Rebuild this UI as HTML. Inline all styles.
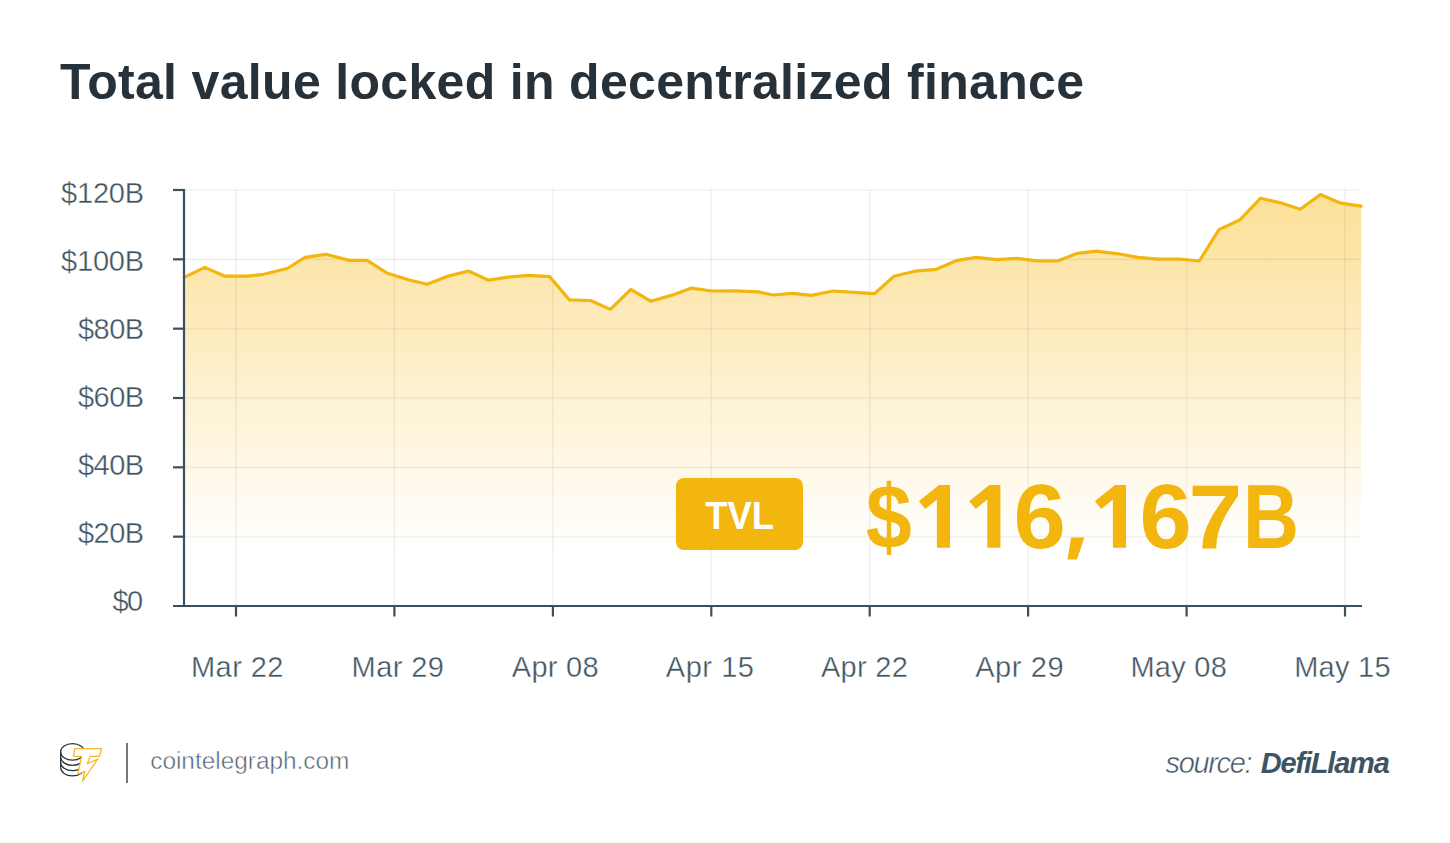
<!DOCTYPE html>
<html><head><meta charset="utf-8">
<style>
html,body{margin:0;padding:0;background:#fff;}
body{width:1450px;height:843px;overflow:hidden;position:relative;font-family:"Liberation Sans",sans-serif;}
svg{position:absolute;left:0;top:0;}
</style></head>
<body>
<svg width="1450" height="843" viewBox="0 0 1450 843">
<defs>
<linearGradient id="fg" x1="0" y1="190" x2="0" y2="550" gradientUnits="userSpaceOnUse">
<stop offset="0" stop-color="#f8b914" stop-opacity="0.45"/>
<stop offset="1" stop-color="#f8b914" stop-opacity="0"/>
</linearGradient>
</defs>
<text x="60" y="99" font-family="Liberation Sans" font-weight="bold" font-size="50" fill="#27313a" textLength="1024" lengthAdjust="spacing">Total value locked in decentralized finance</text>
<polygon points="184.1,277.4 204.8,267.4 225.0,276.2 247.8,276.2 263.8,274.3 287.1,268.5 305.2,257.4 325.9,254.3 349.5,260.4 367.1,260.4 386.7,272.9 408.4,279.8 427.1,284.3 447.2,276.4 468.6,271.0 488.4,280.2 508.1,277.1 528.3,275.3 549.8,276.7 569.4,299.9 590.5,300.5 610.3,309.4 630.8,289.5 650.7,301.2 671.4,295.4 691.5,288.1 711.7,291.0 734.5,290.8 758.6,291.9 773.1,295.0 792.8,293.3 811.4,295.4 833.1,291.0 853.8,292.4 874.5,293.7 894.0,276.2 914.7,271.2 936.4,269.3 956.0,260.7 976.2,257.4 996.9,259.7 1016.5,258.3 1037.1,260.8 1058.3,260.8 1077.4,253.3 1096.5,251.2 1118.3,253.8 1137.9,257.4 1158.6,259.2 1179.2,259.0 1199.3,261.0 1219.0,229.6 1240.1,219.7 1260.4,198.3 1279.6,202.6 1300.2,209.3 1320.4,194.6 1340.9,203.2 1361.1,206.2 1361.1,606 184,606" fill="url(#fg)"/>
<g stroke="#000" stroke-opacity="0.055" stroke-width="1.6"><line x1="184" y1="190" x2="1361" y2="190"/><line x1="184" y1="259.33" x2="1361" y2="259.33"/><line x1="184" y1="328.67" x2="1361" y2="328.67"/><line x1="184" y1="398" x2="1361" y2="398"/><line x1="184" y1="467.33" x2="1361" y2="467.33"/><line x1="184" y1="536.67" x2="1361" y2="536.67"/><line x1="236" y1="190" x2="236" y2="606"/><line x1="394.4" y1="190" x2="394.4" y2="606"/><line x1="552.9" y1="190" x2="552.9" y2="606"/><line x1="711.3" y1="190" x2="711.3" y2="606"/><line x1="869.7" y1="190" x2="869.7" y2="606"/><line x1="1028.1" y1="190" x2="1028.1" y2="606"/><line x1="1186.6" y1="190" x2="1186.6" y2="606"/><line x1="1345" y1="190" x2="1345" y2="606"/></g>
<polyline points="184.1,277.4 204.8,267.4 225.0,276.2 247.8,276.2 263.8,274.3 287.1,268.5 305.2,257.4 325.9,254.3 349.5,260.4 367.1,260.4 386.7,272.9 408.4,279.8 427.1,284.3 447.2,276.4 468.6,271.0 488.4,280.2 508.1,277.1 528.3,275.3 549.8,276.7 569.4,299.9 590.5,300.5 610.3,309.4 630.8,289.5 650.7,301.2 671.4,295.4 691.5,288.1 711.7,291.0 734.5,290.8 758.6,291.9 773.1,295.0 792.8,293.3 811.4,295.4 833.1,291.0 853.8,292.4 874.5,293.7 894.0,276.2 914.7,271.2 936.4,269.3 956.0,260.7 976.2,257.4 996.9,259.7 1016.5,258.3 1037.1,260.8 1058.3,260.8 1077.4,253.3 1096.5,251.2 1118.3,253.8 1137.9,257.4 1158.6,259.2 1179.2,259.0 1199.3,261.0 1219.0,229.6 1240.1,219.7 1260.4,198.3 1279.6,202.6 1300.2,209.3 1320.4,194.6 1340.9,203.2 1361.1,206.2" fill="none" stroke="#f2b60f" stroke-linecap="round" stroke-width="3.2" stroke-linejoin="round"/>
<g stroke="#3b4f5c" stroke-width="2.2">
<line x1="184" y1="189" x2="184" y2="607"/>
<line x1="173" y1="606" x2="1362" y2="606"/>
<line x1="173" y1="190" x2="184" y2="190"/><line x1="173" y1="259.33" x2="184" y2="259.33"/><line x1="173" y1="328.67" x2="184" y2="328.67"/><line x1="173" y1="398" x2="184" y2="398"/><line x1="173" y1="467.33" x2="184" y2="467.33"/><line x1="173" y1="536.67" x2="184" y2="536.67"/><line x1="236" y1="606" x2="236" y2="616.5"/><line x1="394.4" y1="606" x2="394.4" y2="616.5"/><line x1="552.9" y1="606" x2="552.9" y2="616.5"/><line x1="711.3" y1="606" x2="711.3" y2="616.5"/><line x1="869.7" y1="606" x2="869.7" y2="616.5"/><line x1="1028.1" y1="606" x2="1028.1" y2="616.5"/><line x1="1186.6" y1="606" x2="1186.6" y2="616.5"/><line x1="1345" y1="606" x2="1345" y2="616.5"/>
</g>
<g font-family="Liberation Sans" font-size="29" fill="#3f5563" stroke="#fff" stroke-width="0.35"><text x="61.0" y="202.7" textLength="83.1" lengthAdjust="spacing">$120B</text><text x="61.0" y="270.7" textLength="83.1" lengthAdjust="spacing">$100B</text><text x="77.9" y="338.7" textLength="66.2" lengthAdjust="spacing">$80B</text><text x="77.9" y="406.8" textLength="66.2" lengthAdjust="spacing">$60B</text><text x="77.9" y="474.8" textLength="66.2" lengthAdjust="spacing">$40B</text><text x="77.9" y="542.8" textLength="66.2" lengthAdjust="spacing">$20B</text><text x="112.4" y="610.8" textLength="30.7" lengthAdjust="spacing">$0</text></g>
<g font-family="Liberation Sans" font-size="29" fill="#3f5563" stroke="#fff" stroke-width="0.35"><text x="191.0" y="676.9" textLength="92.5" lengthAdjust="spacing">Mar 22</text><text x="351.6" y="676.9" textLength="92.2" lengthAdjust="spacing">Mar 29</text><text x="511.8" y="676.9" textLength="86.8" lengthAdjust="spacing">Apr 08</text><text x="665.8" y="676.9" textLength="88.2" lengthAdjust="spacing">Apr 15</text><text x="821.0" y="676.9" textLength="86.8" lengthAdjust="spacing">Apr 22</text><text x="975.2" y="676.9" textLength="88.4" lengthAdjust="spacing">Apr 29</text><text x="1130.4" y="676.9" textLength="96.4" lengthAdjust="spacing">May 08</text><text x="1294.2" y="676.9" textLength="96.4" lengthAdjust="spacing">May 15</text></g>
<rect x="676" y="478" width="127" height="72" rx="8" fill="#f2b60f"/>
<text x="705.2" y="528.9" font-family="Liberation Sans" font-weight="bold" font-size="39.3" fill="#fff" textLength="68.8" lengthAdjust="spacingAndGlyphs">TVL</text>
<g font-family="Liberation Sans" font-weight="bold" font-size="91.2" fill="#f2b60f"><text x="865.8" y="547.7" textLength="46.0" lengthAdjust="spacingAndGlyphs">$</text><text x="1013.6" y="547.7" textLength="52.4" lengthAdjust="spacingAndGlyphs">6</text><text x="1139.4" y="547.7" textLength="52.2" lengthAdjust="spacingAndGlyphs">6</text><text x="1188.6" y="547.7" textLength="53.8" lengthAdjust="spacingAndGlyphs">7</text><text x="1243.0" y="547.7" textLength="56.0" lengthAdjust="spacingAndGlyphs">B</text><path transform="translate(0,0)" d="M938.9,484.9 L950,484.9 L950,547.8 L936.9,547.8 L936.9,499.4 L925.3,509 L918.9,501.3 Z"/><path transform="translate(50.4,0)" d="M938.9,484.9 L950,484.9 L950,547.8 L936.9,547.8 L936.9,499.4 L925.3,509 L918.9,501.3 Z"/><path transform="translate(176.0,0)" d="M938.9,484.9 L950,484.9 L950,547.8 L936.9,547.8 L936.9,499.4 L925.3,509 L918.9,501.3 Z"/><path d="M1071.2,537.6 L1084.4,537.6 L1076.9,559.6 L1067.4,559.6 Z"/></g>
<g fill="none" stroke="#27313a" stroke-width="1.25">
<ellipse cx="72.5" cy="751.9" rx="11.9" ry="8.3"/>
<path d="M60.6,757 A11.9,8.3 0 0 0 84.4,757"/>
<path d="M60.6,762.4 A11.9,8.3 0 0 0 84.4,762.4"/>
<path d="M60.6,767.6 A11.9,8.3 0 0 0 84.4,767.6"/>
<path d="M60.6,751.9 V767.6"/>
</g>
<path d="M74.8,748.5 L101.5,748.5 L99.5,756.3 L90.2,756.3 L87.5,763.5 L97.6,759.2 L82.4,781.4 L84.8,771.2 L77.9,774.2 L81.6,756.3 L73.6,756.3 Z" fill="#fff" stroke="#f3b92a" stroke-width="1.25" stroke-linejoin="miter"/>
<line x1="127" y1="743" x2="127" y2="783" stroke="#777" stroke-width="2"/>
<text x="150.2" y="769.1" font-family="Liberation Sans" font-size="24.4" fill="#4f6472" stroke="#fff" stroke-width="0.5" textLength="199.2" lengthAdjust="spacing">cointelegraph.com</text>
<text x="1165.6" y="773.1" font-family="Liberation Sans" font-size="29" fill="#3e5462" stroke="#fff" stroke-width="0.5" font-style="italic" textLength="87.0" lengthAdjust="spacing">source:</text>
<text x="1260.8" y="773.1" font-family="Liberation Sans" font-size="29" fill="#3e5462" font-style="italic" font-weight="bold" textLength="129.0" lengthAdjust="spacing">DefiLlama</text>
</svg>
</body></html>
